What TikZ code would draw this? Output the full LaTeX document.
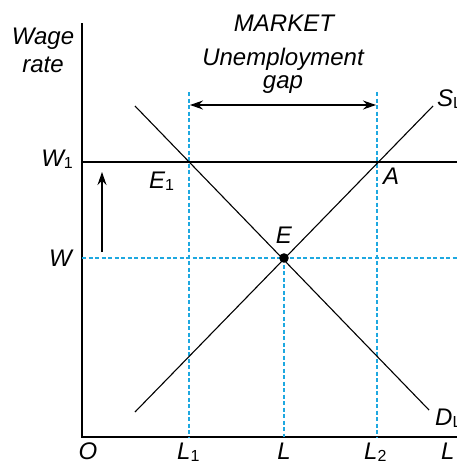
\documentclass[tikz,border=0pt]{standalone}
\usepackage{fontspec}
\setmainfont{Liberation Sans}
\usetikzlibrary{arrows.meta, positioning}
\definecolor{gapcyan}{HTML}{1EA8E0}
\newcommand{\lowidx}[1]{\raisebox{-0.12em}{\fontsize{16}{16}\selectfont\upshape #1}}

\begin{document}
\begin{tikzpicture}[x=1pt,y=-1pt]
  \tikzstyle{lbl}=[font=\fontsize{24}{28}\selectfont\itshape, inner sep=0pt]
  \tikzstyle{guide}=[gapcyan, line width=1.3pt, dash pattern=on 4pt off 2.5pt]
  \tikzstyle{curve}=[black, line width=1.1pt]
  \tikzstyle{axis}=[black, line width=2pt]
  \tikzstyle{gaparrow}=[-{Stealth[length=13pt,width=9pt]}, line width=1.1pt]
  \useasboundingbox (0,0) rectangle (456,466);

  % axes
  \coordinate (O) at (82,437);
  \coordinate (ytop) at (82,23);
  \coordinate (xend) at (460,437);
  \draw[axis] (ytop) -- (O) -- (xend);

  % wage levels
  \coordinate (w1left) at (82,162);
  \coordinate (w1right) at (460,162);
  \coordinate (wleft) at (82,258);
  \coordinate (wright) at (460,258);
  \draw[black, line width=1.5pt] (w1left) -- (w1right);

  % guide lines
  \coordinate (E) at (284,258);
  \coordinate (l1top) at (189,92);
  \coordinate (l1bot) at (189,437);
  \coordinate (l2top) at (377,92);
  \coordinate (l2bot) at (377,437);
  \coordinate (lbot) at (284,437);
  \draw[guide] (wleft) -- (wright);
  \draw[guide] (l1top) -- (l1bot);
  \draw[guide] (l2top) -- (l2bot);
  \draw[guide] (E) -- (lbot);

  % demand and supply
  \coordinate (dtop) at (135,106);
  \coordinate (dbot) at (429,410);
  \coordinate (sbot) at (135,412);
  \coordinate (stop) at (433,106);
  \draw[curve] (dtop) -- (dbot);
  \draw[curve] (sbot) -- (stop);
  \fill[black] (E) circle (4.8pt);

  % arrows
  \coordinate (gapl) at (190,105);
  \coordinate (gapr) at (376,105);
  \draw[gaparrow, {Stealth[length=13pt,width=9pt]}-{Stealth[length=13pt,width=9pt]}] (gapl) -- (gapr);
  \coordinate (upfrom) at (102,252);
  \coordinate (upto) at (102,172);
  \draw[gaparrow] (upfrom) -- (upto);

  % labels
  \node[lbl, anchor=base] (wage) at (43,44) {Wage};
  \node[lbl, anchor=base] (rate) at (43,72) {rate};
  \node[lbl, anchor=base] (market) at (284,31) {MARKET};
  \node[lbl, anchor=base, align=center,
    font=\fontsize{24}{23}\selectfont\itshape] (unemp) at (283,88)
    {Unemployment\\gap};
  \node[lbl, anchor=base east] (w1lbl) at (73,166) {W\lowidx{1}};
  \node[lbl, anchor=base east] (wlbl) at (72,266) {W};
  \node[lbl, anchor=base west] (e1lbl) at (149,188) {E\lowidx{1}};
  \node[lbl, anchor=base west] (albl) at (383,184) {A};
  \node[lbl, anchor=base] (elbl) at (284,243) {E};
  \node[lbl, anchor=base] (olbl) at (88,459) {O};
  \node[lbl, anchor=base west] (l1lbl) at (177,459) {L\lowidx{1}};
  \node[lbl, anchor=base] (llbl) at (284,459) {L};
  \node[lbl, anchor=base west] (l2lbl) at (364,459) {L\lowidx{2}};
  \node[lbl, anchor=base west] (laxis) at (441,459) {L};
  \node[lbl, anchor=base west] (slbl) at (437,106) {S\lowidx{L}};
  \node[lbl, anchor=base west] (dlbl) at (435,425) {D\lowidx{L}};
\end{tikzpicture}
\end{document}
